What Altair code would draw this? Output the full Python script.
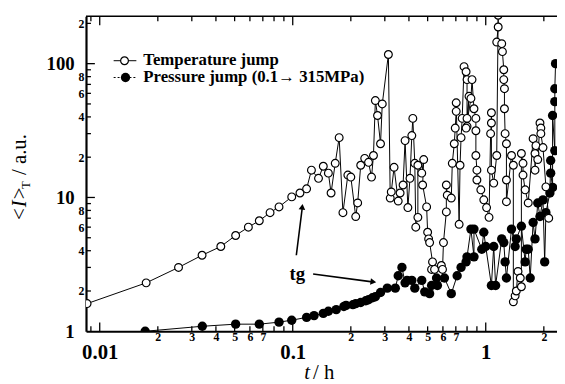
import altair as alt
import pandas as pd

# ---- data ----
temp_t = [0.0086, 0.0174, 0.0256, 0.0339, 0.0424, 0.0506, 0.0589, 0.0671, 0.0763, 0.0849,
          0.0988, 0.109, 0.118, 0.125, 0.136, 0.144, 0.153, 0.158, 0.166, 0.174,
          0.182, 0.193, 0.200, 0.212, 0.217, 0.225, 0.236, 0.247, 0.256, 0.262,
          0.268, 0.275, 0.285, 0.291, 0.313, 0.320, 0.324, 0.335, 0.352, 0.360,
          0.373, 0.382, 0.395, 0.405, 0.414, 0.419, 0.429, 0.434, 0.445, 0.445,
          0.466, 0.477, 0.471, 0.494, 0.500, 0.506, 0.512, 0.530, 0.524, 0.543,
          0.589, 0.597, 0.604, 0.625, 0.625, 0.632, 0.663, 0.671, 0.687, 0.695,
          0.703, 0.703, 0.728, 0.736, 0.745, 0.755, 0.772, 0.791, 0.800, 0.800,
          0.819, 0.800, 0.791, 0.838, 0.849, 0.869, 0.889, 0.889, 0.889, 0.900,
          0.900, 0.943, 0.977, 1.01, 1.04, 1.06, 1.07, 1.07, 1.07, 1.10,
          1.14, 1.16, 1.16, 1.14, 1.21, 1.22, 1.24, 1.24, 1.25, 1.25,
          1.26, 1.28, 1.28, 1.28, 1.36, 1.39, 1.39, 1.42, 1.44, 1.47,
          1.51, 1.53, 1.53, 1.56, 1.56, 1.60, 1.66, 1.76, 1.80, 1.80,
          1.82, 1.86, 1.91, 1.93, 1.93, 1.98, 2.05, 2.12]
temp_I = [1.61, 2.3, 3.0, 3.7, 4.3, 5.2, 6.0, 6.7, 7.7, 8.5,
          10.1, 10.8, 11.6, 16.0, 13.9, 17.1, 15.2, 10.8, 18.0, 28,
          7.7, 14.7, 14.2, 7.2, 9.1, 17.4, 19.6, 18.3, 14.2, 20.6,
          53, 41, 25.2, 50, 117, 9.9, 11.0, 16.8, 9.4, 10.8,
          12.4, 26.6, 8.4, 13.9, 29, 39, 18.0, 6.0, 7.1, 17.4,
          15.2, 19.2, 12.4, 8.5, 5.5, 4.9, 4.6, 3.3, 2.9, 2.9,
          3.1, 2.9, 4.6, 7.8, 12.4, 10.4, 9.9, 18.0, 25.2, 33,
          44, 51, 6.3, 17.4, 28, 39, 95, 87, 76, 39,
          57, 34, 33, 55, 76, 46, 39, 31.5, 20.6, 16.0,
          13.5, 11.4, 9.6, 8.4, 7.1, 30, 36, 43, 16.0, 12.8,
          20.6, 230, 188, 145, 141, 123, 90, 76, 65, 46,
          30, 25.2, 13.5, 9.3, 20.6, 17.4, 1.66, 1.84, 2.0, 2.8,
          2.5, 2.15, 21.3, 18.0, 14.7, 11.4, 9.1, 27.5, 21.3, 16.0,
          24.4, 19.2, 36, 33, 30, 23.6, 12, 7]

pres_t = [0.0172, 0.034, 0.0506, 0.0671, 0.0849, 0.0988, 0.118, 0.129, 0.144, 0.153,
          0.168, 0.184, 0.189, 0.205, 0.212, 0.225, 0.239, 0.247, 0.259, 0.268,
          0.285, 0.309, 0.34, 0.352, 0.368, 0.382, 0.391, 0.414, 0.429, 0.466,
          0.483, 0.512, 0.524, 0.556, 0.562, 0.611, 0.663, 0.711, 0.745, 0.791,
          0.800, 0.838, 0.869, 0.869, 0.954, 0.977, 1.0, 1.07, 1.10, 1.125,
          1.21, 1.24, 1.26, 1.28, 1.36, 1.42, 1.44, 1.53, 1.60, 1.62,
          1.66, 1.70, 1.76, 1.80, 1.86, 1.91, 1.98, 2.02, 2.05, 2.15,
          2.17, 2.17, 2.22, 2.22, 2.28, 2.28, 2.28, 2.30]
pres_I = [1.0, 1.09, 1.13, 1.13, 1.17, 1.21, 1.27, 1.31, 1.36, 1.41,
          1.45, 1.53, 1.56, 1.58, 1.61, 1.64, 1.69, 1.72, 1.78, 1.81,
          1.95, 2.1, 2.1, 2.6, 3.0, 2.3, 2.4, 2.4, 2.1, 2.4,
          1.97, 1.91, 2.2, 2.5, 2.2, 2.5, 1.91, 2.6, 3.0, 3.3,
          3.6, 5.8, 3.6, 5.8, 4.1, 5.5, 4.3, 2.2, 4.3, 2.2,
          4.9, 4.6, 3.3, 2.5, 5.8, 4.3, 4.9, 6.1, 3.3, 4.1,
          4.1, 2.5, 6.5, 4.9, 9.1, 7.2, 9.6, 3.3, 7.7, 10.8,
          18.9, 15.2, 11.9, 41, 22.4, 52, 65, 100]

series_names = ["Temperature jump", "Pressure jump (0.1\u2192 315MPa)"]

x_minor_labels = [0.02, 0.03, 0.04, 0.05, 0.06, 0.07, 0.2, 0.3, 0.4, 0.5, 0.6, 0.7, 2]
x_major = [0.01, 0.1, 1]
x_minor_ticks = [0.009, 0.02, 0.03, 0.04, 0.05, 0.06, 0.07, 0.08, 0.09,
                 0.2, 0.3, 0.4, 0.5, 0.6, 0.7, 0.8, 0.9, 2]

y_minor_labels = [2, 4, 6, 8, 20, 40, 60, 80, 200]
y_major = [1, 10, 100]
y_major_ticks = [10, 100]
y_minor_ticks = [2, 3, 4, 5, 6, 7, 8, 9, 20, 30, 40, 50, 60, 70, 80, 90, 200]

# ---- chart ----
W, H = 477, 319
FONT = "Liberation Serif"
xs = alt.Scale(type="log", domain=[0.00849, 2.34], nice=False)
ys = alt.Scale(type="log", domain=[1, 226], nice=False)

# leading digit for minor labels, plain number for decades
DIGIT = "format(datum.value / pow(10, floor(log(datum.value) / LN10 + 1e-9)), '.0f')"


def axis(vals, orient, size, pad, expr, show_domain):
    return alt.Axis(values=vals, orient=orient, labelExpr=expr, ticks=False, grid=False,
                    domain=show_domain, domainColor="black", domainWidth=2.2,
                    labelColor="black", labelFont=FONT, labelFontWeight="bold",
                    labelFontSize=size, labelPadding=pad,
                    labelOverlap=False, labelFlush=False, title=None)


x_axis_minor = axis(x_minor_labels, "bottom", 12, 0, DIGIT, True)
x_axis_major = axis(x_major, "bottom", 21, 11, "datum.label", False)
y_axis_minor = axis(y_minor_labels, "left", 12, 2, DIGIT, True)
y_axis_major = axis(y_major, "left", 19, 12, "datum.label", False)

temp_df = pd.DataFrame({"t": temp_t, "I": temp_I, "k": range(len(temp_t))})
pres_df = pd.DataFrame({"t": pres_t, "I": pres_I, "k": range(len(pres_t))})

pres_line = alt.Chart(pres_df).mark_line(color="black", strokeWidth=1, clip=True).encode(
    x=alt.X("t:Q", scale=xs, axis=x_axis_minor), y=alt.Y("I:Q", scale=ys, axis=y_axis_minor),
    order="k:Q")
pres_pts = alt.Chart(pres_df).mark_point(shape="circle", filled=True, color="black", size=90,
                                         opacity=1, clip=True).encode(
    x=alt.X("t:Q", scale=xs, axis=None), y=alt.Y("I:Q", scale=ys, axis=None))
temp_line = alt.Chart(temp_df).mark_line(color="black", strokeWidth=1, clip=True).encode(
    x=alt.X("t:Q", scale=xs, axis=None), y=alt.Y("I:Q", scale=ys, axis=None), order="k:Q")
temp_pts = alt.Chart(temp_df).mark_point(shape="circle", filled=True, fill="white", stroke="black",
                                         strokeWidth=1.2, size=62, opacity=1, clip=True).encode(
    x=alt.X("t:Q", scale=xs, axis=None), y=alt.Y("I:Q", scale=ys, axis=None))


def xticks(vals, length, top=False, ax=None):
    df = pd.DataFrame({"v": vals})
    y0 = 0 if top else H
    y1 = length if top else H - length
    return alt.Chart(df).mark_rule(color="black", strokeWidth=1.3).encode(
        x=alt.X("v:Q", scale=xs, axis=ax), y=alt.value(y0), y2=alt.value(y1))


def yticks(vals, length, ax=None):
    df = pd.DataFrame({"v": vals})
    return alt.Chart(df).mark_rule(color="black", strokeWidth=1.3).encode(
        y=alt.Y("v:Q", scale=ys, axis=ax), x=alt.value(0), x2=alt.value(length))


one = pd.DataFrame({"a": [0]})
top_line = alt.Chart(one).mark_rule(color="black", strokeWidth=1.6).encode(
    x=alt.value(0), x2=alt.value(W), y=alt.value(0))

# legend
leg_line1 = alt.Chart(one).mark_rule(color="black", strokeWidth=1).encode(
    x=alt.value(28), x2=alt.value(51), y=alt.value(45))
leg_pt1 = alt.Chart(one).mark_point(shape="circle", filled=True, fill="white", stroke="black",
                                    strokeWidth=1.2, size=62, opacity=1).encode(
    x=alt.value(39), y=alt.value(45))
leg_txt1 = alt.Chart(one).mark_text(text=series_names[0], font=FONT, fontSize=17, fontWeight="bold",
                                    align="left", baseline="alphabetic", color="black").encode(
    x=alt.value(58), y=alt.value(49))
leg_line2 = alt.Chart(one).mark_rule(color="black", strokeWidth=1, strokeDash=[2, 2]).encode(
    x=alt.value(28), x2=alt.value(51), y=alt.value(62))
leg_pt2 = alt.Chart(one).mark_point(shape="circle", filled=True, color="black", size=90,
                                    opacity=1).encode(x=alt.value(40), y=alt.value(62))
leg_txt2 = alt.Chart(one).mark_text(text=series_names[1], font=FONT, fontSize=17, fontWeight="bold",
                                    align="left", baseline="alphabetic", color="black").encode(
    x=alt.value(58), y=alt.value(67))

# tg annotation
tg_txt = alt.Chart(one).mark_text(text="tg", font=FONT, fontSize=19, fontWeight="bold",
                                  align="left", baseline="alphabetic", color="black").encode(
    x=alt.value(206), y=alt.value(267))
arr1 = alt.Chart(one).mark_rule(color="black", strokeWidth=1.6).encode(
    x=alt.value(213), y=alt.value(242), x2=alt.value(219), y2=alt.value(194))
arr1h = alt.Chart(one).mark_point(shape="triangle-up", filled=True, color="black", size=45,
                                  opacity=1, angle=7).encode(x=alt.value(219), y=alt.value(193))
arr2 = alt.Chart(one).mark_rule(color="black", strokeWidth=1.6).encode(
    x=alt.value(230), y=alt.value(261), x2=alt.value(290), y2=alt.value(269))
arr2h = alt.Chart(one).mark_point(shape="triangle-right", filled=True, color="black", size=45,
                                  opacity=1, angle=8).encode(x=alt.value(291), y=alt.value(269))

# axis titles
xt1 = alt.Chart(one).mark_text(text="t", font=FONT, fontSize=21, fontStyle="italic",
                               align="left", baseline="alphabetic", color="black").encode(
    x=alt.value(221), y=alt.value(367))
xt2 = alt.Chart(one).mark_text(text="/ h", font=FONT, fontSize=21,
                               align="left", baseline="alphabetic", color="black").encode(
    x=alt.value(230), y=alt.value(367))
yt1 = alt.Chart(one).mark_text(text="<I>", font=FONT, fontSize=21, fontStyle="italic", angle=270,
                               align="center", baseline="middle", color="black").encode(
    x=alt.value(-67), y=alt.value(190))
yt2 = alt.Chart(one).mark_text(text="T", font=FONT, fontSize=13, angle=270,
                               align="center", baseline="middle", color="black").encode(
    x=alt.value(-61), y=alt.value(171))
yt3 = alt.Chart(one).mark_text(text="/ a.u.", font=FONT, fontSize=21, angle=270,
                               align="center", baseline="middle", color="black").encode(
    x=alt.value(-67), y=alt.value(140))

chart = alt.layer(
    pres_line, temp_line, pres_pts, temp_pts,
    xticks(x_minor_ticks, 5), xticks(x_major, 9, ax=x_axis_major),
    xticks(x_minor_ticks, 5, top=True), xticks(x_major, 9, top=True),
    yticks(y_minor_ticks, 5), yticks(y_major_ticks, 9, ax=y_axis_major),
    top_line, leg_line1, leg_pt1, leg_txt1, leg_line2, leg_pt2, leg_txt2,
    tg_txt, arr1, arr1h, arr2, arr2h, xt1, xt2, yt1, yt2, yt3,
).resolve_axis(x="independent", y="independent").properties(
    width=W, height=H, autosize="none",
    padding={"left": 79, "top": 6, "right": 0, "bottom": 50},
    background="white",
).configure_view(stroke=None)

chart.save("out.html", embed_options={"renderer": "svg", "actions": False})
